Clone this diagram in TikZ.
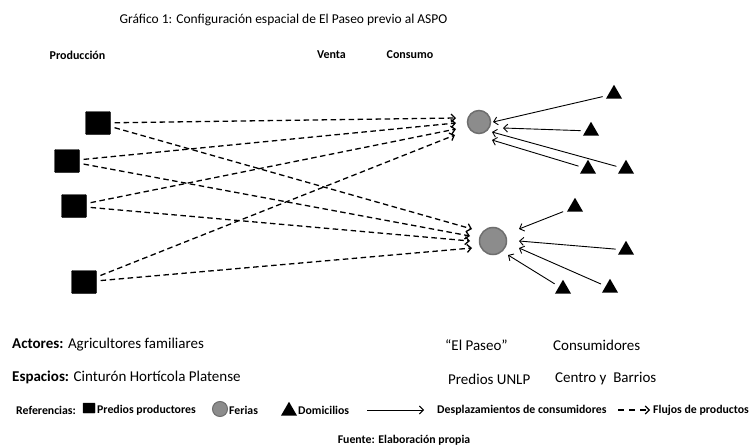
\documentclass[tikz,border=0pt]{standalone}
\usepackage{fontspec}
\setmainfont{Carlito}
\usetikzlibrary{arrows.meta,shapes.geometric}
\definecolor{feriafill}{HTML}{8C8C8C}
\definecolor{feriadraw}{HTML}{6E6E6E}
\begin{document}
\begin{tikzpicture}[x=1pt,y=-1pt,
  prod/.style={draw=black, fill=black, minimum width=25pt, minimum height=23pt, inner sep=0pt, rounded corners=1pt},
  feria/.style={circle, draw=feriadraw, fill=feriafill, line width=1.5pt, inner sep=0pt},
  dom/.style={regular polygon, regular polygon sides=3, fill=black, minimum size=18.5pt, inner sep=0pt},
  flow/.style={dash pattern=on 5.5pt off 3.5pt, line width=1.3pt, -{Straight Barb[length=4pt,width=8pt]}, shorten <=4pt},
  cons/.style={line width=0.9pt, -{Straight Barb[length=4pt,width=8pt]}, shorten <=5pt},
  head/.style={font=\fontsize{12}{14}\selectfont\bfseries, inner sep=0pt},
  big/.style={font=\fontsize{15}{18}\selectfont, anchor=west, inner sep=0pt},
  leg/.style={font=\fontsize{11.8}{14}\selectfont\bfseries, anchor=west, inner sep=0pt}
]
\useasboundingbox (0,0) rectangle (753,447);

% titles
\node[font=\fontsize{13.5}{16}\selectfont, inner sep=0pt] (title) at (283.5,20) {Gráfico 1: Configuración espacial de El Paseo previo al ASPO};
\node[head] (hprod) at (77.5,55) {Producción};
\node[head] (hventa) at (331.5,55) {Venta};
\node[head] (hcons) at (410,55) {Consumo};

% productores
\node[prod] (s1) at (98,123) {};
\node[prod] (s2) at (67,161) {};
\node[prod] (s3) at (74,206) {};
\node[prod] (s4) at (84,282) {};

% ferias
\node[feria, minimum size=23pt] (c1) at (479,122) {};
\node[feria, minimum size=27pt] (c2) at (493,241) {};

% domicilios
\node[dom] (t1) at (614,94) {};
\node[dom] (t2) at (591,131) {};
\node[dom] (t3) at (588,169) {};
\node[dom] (t4) at (626,169) {};
\node[dom] (t5) at (575,207) {};
\node[dom] (t6) at (626,250) {};
\node[dom] (t7) at (563,289) {};
\node[dom] (t8) at (610,288) {};

% flow end points
\coordinate (a1) at (456,118);
\coordinate (a2) at (456,123);
\coordinate (a3) at (456,129);
\coordinate (a4) at (455,135);
\coordinate (b1) at (472,229);
\coordinate (b2) at (470,236);
\coordinate (b3) at (470,241);
\coordinate (b4) at (472,248);

\draw[flow] (s1) -- (a1);
\draw[flow] (s1) -- (b1);
\draw[flow] (s2) -- (a2);
\draw[flow] (s2) -- (b2);
\draw[flow] (s3) -- (a3);
\draw[flow] (s3) -- (b3);
\draw[flow] (s4) -- (a4);
\draw[flow] (s4) -- (b4);

% consumer movement end points
\coordinate (e1) at (493,122);
\coordinate (e2) at (503,128);
\coordinate (e3) at (492,140);
\coordinate (e4) at (492,132);
\coordinate (e5) at (519,229);
\coordinate (e6) at (519,241);
\coordinate (e7) at (508,255);
\coordinate (e8) at (519,248);

\draw[cons] (t1) -- (e1);
\draw[cons] (t2) -- (e2);
\draw[cons] (t3) -- (e3);
\draw[cons] (t4) -- (e4);
\draw[cons] (t5) -- (e5);
\draw[cons] (t6) -- (e6);
\draw[cons] (t7) -- (e7);
\draw[cons] (t8) -- (e8);

% lower texts
\node[big] (actores) at (12,345) {\textbf{Actores:} Agricultores familiares};
\node[big] (espacios) at (12,377) {\textbf{Espacios:} Cinturón Hortícola Platense};
\node[big] (paseo) at (445,345) {“El Paseo”};
\node[big] (consumidores) at (553,345) {Consumidores};
\node[big] (unlp) at (448,379) {Predios UNLP};
\node[big] (centro) at (555,379) {Centro y~~Barrios};

% legend
\node[leg] (ref) at (16,410) {Referencias:};
\node[prod, minimum width=12pt, minimum height=10pt, rounded corners=0.5pt] (lsq) at (89,408) {};
\node[leg] (lprod) at (97,410) {Predios productores};
\node[feria, minimum size=15pt, line width=1pt] (lcirc) at (220,409) {};
\node[leg] (lfer) at (229,410) {Ferias};
\node[dom] (ltri) at (289,411) {};
\node[leg] (ldom) at (298,410) {Domicilios};
\coordinate (lc1) at (367,410);
\coordinate (lc2) at (424,410);
\draw[line width=0.9pt, -{Straight Barb[length=4pt,width=8pt]}] (lc1) -- (lc2);
\node[leg] (ldesp) at (437,410) {Desplazamientos de consumidores};
\coordinate (lf1) at (618,410);
\coordinate (lf2) at (650,410);
\draw[dash pattern=on 6pt off 5pt, line width=1.1pt, -{Straight Barb[length=4pt,width=8pt]}] (lf1) -- (lf2);
\node[leg] (lflu) at (653,410) {Flujos de productos};

\node[font=\fontsize{11.8}{14}\selectfont\bfseries, inner sep=0pt] (fuente) at (404,440) {Fuente: Elaboración propia};
\end{tikzpicture}
\end{document}
